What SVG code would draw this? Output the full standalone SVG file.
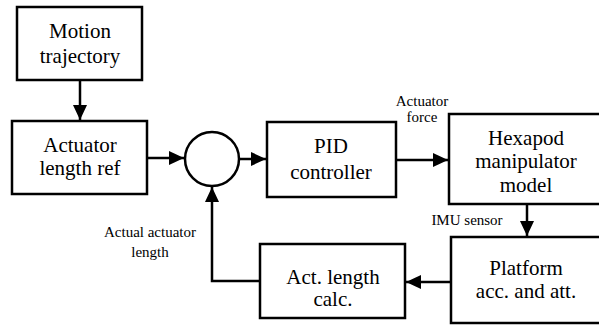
<svg xmlns="http://www.w3.org/2000/svg" width="599" height="327" viewBox="0 0 599 327">
<defs>
<style>
.box{fill:#fff;stroke:#000;stroke-width:2.5}
.c{fill:none;stroke:#000;stroke-width:2.5}
.t{font-family:"Liberation Serif","Times New Roman",serif;font-size:21px;fill:#000;text-anchor:middle}
.s{font-family:"Liberation Serif","Times New Roman",serif;font-size:15px;fill:#000;text-anchor:middle}
</style>
<marker id="ah" markerUnits="userSpaceOnUse" markerWidth="16" markerHeight="16" viewBox="0 0 16 16" refX="15" refY="8" orient="auto">
<path d="M0,1 L15,8 L0,15 Z" fill="#000"/>
</marker>
</defs>
<rect width="599" height="327" fill="#fff"/>
<g id="connectors">
<path class="c" d="M80,80 V120" marker-end="url(#ah)"/>
<path class="c" d="M147,158 H184" marker-end="url(#ah)"/>
<path class="c" d="M239,159 H266" marker-end="url(#ah)"/>
<path class="c" d="M396,160 H448" marker-end="url(#ah)"/>
<path class="c" d="M527,204 V236" marker-end="url(#ah)"/>
<path class="c" d="M451,282 H406" marker-end="url(#ah)"/>
<path class="c" d="M260,281 H212 V187" marker-end="url(#ah)"/>
</g>
<g id="motion">
<rect class="box" x="17" y="7" width="125" height="73"/>
<text class="t" x="80" y="38">Motion</text>
<text class="t" x="80" y="63">trajectory</text>
</g>
<g id="actref">
<rect class="box" x="12" y="121" width="135" height="73"/>
<text class="t" x="80" y="152">Actuator</text>
<text class="t" x="80" y="175">length ref</text>
</g>
<g id="sum">
<circle cx="212" cy="159" r="27" fill="#fff" stroke="#000" stroke-width="2.5"/>
</g>
<g id="pid">
<rect class="box" x="267" y="122" width="129" height="75"/>
<text class="t" x="331" y="153">PID</text>
<text class="t" x="331" y="179">controller</text>
</g>
<g id="hexapod">
<rect class="box" x="449" y="114" width="155" height="90"/>
<text class="t" x="526" y="145">Hexapod</text>
<text class="t" x="526" y="168">manipulator</text>
<text class="t" x="526" y="192">model</text>
</g>
<g id="platform">
<rect class="box" x="451" y="237" width="155" height="86"/>
<text class="t" x="526" y="275">Platform</text>
<text class="t" x="526" y="298">acc. and att.</text>
</g>
<g id="actcalc">
<rect class="box" x="260" y="244" width="145" height="74"/>
<text class="t" x="333" y="284">Act. length</text>
<text class="t" x="333" y="306">calc.</text>
</g>
<g id="labels">
<text class="s" x="422" y="106">Actuator</text>
<text class="s" x="422" y="122">force</text>
<text class="s" x="467" y="225">IMU sensor</text>
<text class="s" x="150" y="237">Actual actuator</text>
<text class="s" x="150" y="257">length</text>
</g>
</svg>
